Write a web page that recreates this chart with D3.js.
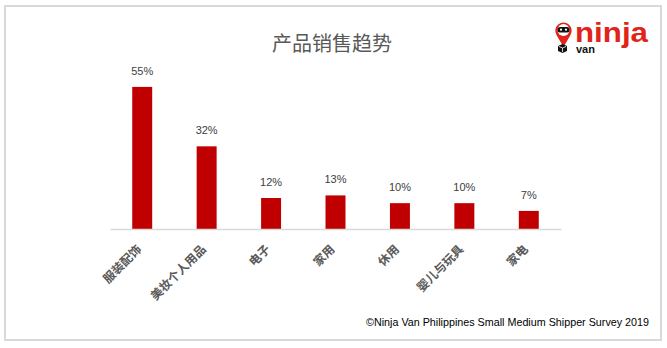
<!DOCTYPE html>
<html>
<head>
<meta charset="utf-8">
<script src="https://cdn.jsdelivr.net/npm/d3@7"></script>
<style>
  html, body { margin: 0; padding: 0; background: #fff; }
  svg { display: block; }
</style>
</head>
<body>
<svg id="chart" width="667" height="348"></svg>
<script>
// Product categories and their share of sales (%)
const categories = ["服装配饰", "美妆个人用品", "电子", "家用", "休用", "婴儿与玩具", "家电"];
const shares = [55, 32, 12, 13, 10, 10, 7];
const valueLabels = ["55%", "32%", "12%", "13%", "10%", "10%", "7%"];

const titleText = "产品销售趋势";
const sourceText = "©Ninja Van Philippines Small Medium Shipper Survey 2019";

const W = 667, H = 348;
const svg = d3.select("#chart");

// outer frame
svg.append("rect")
  .attr("x", 5).attr("y", 6)
  .attr("width", 656).attr("height", 334)
  .attr("fill", "#fff")
  .attr("stroke", "#d9d9d9")
  .attr("stroke-width", 2);

const plot = { left: 110, right: 561, top: 74, bottom: 229 };

const x = d3.scaleBand()
  .domain(categories)
  .range([plot.left, plot.right])
  .paddingInner(0.69)
  .paddingOuter(0.345);

const y = d3.scaleLinear()
  .domain([0, 60])
  .range([plot.bottom, plot.top]);

// title
svg.append("text")
  .attr("x", 332).attr("y", 51)
  .attr("text-anchor", "middle")
  .attr("font-family", "'Noto Sans CJK SC', sans-serif")
  .attr("font-size", 20)
  .attr("fill", "#595959")
  .text(titleText);

// bars
svg.append("g").selectAll("rect")
  .data(shares)
  .join("rect")
  .attr("x", (d, i) => x(categories[i]))
  .attr("y", d => y(d))
  .attr("width", x.bandwidth())
  .attr("height", d => y(0) - y(d))
  .attr("fill", "#c00000");

// value labels
svg.append("g").selectAll("text")
  .data(shares)
  .join("text")
  .attr("x", (d, i) => x(categories[i]) + x.bandwidth() / 2)
  .attr("y", d => y(d) - 12)
  .attr("text-anchor", "middle")
  .attr("font-family", "'Liberation Sans', Arial, sans-serif")
  .attr("font-size", 11)
  .attr("fill", "#404040")
  .text((d, i) => valueLabels[i]);

// x axis
const xAxis = svg.append("g")
  .attr("transform", `translate(0,${plot.bottom})`)
  .call(d3.axisBottom(x).tickSize(0).tickSizeOuter(0));
xAxis.select(".domain").attr("stroke", "#d9d9d9").attr("stroke-width", 1.5);
xAxis.selectAll(".tick text")
  .attr("font-family", "'Noto Sans CJK SC', sans-serif")
  .attr("font-weight", "bold")
  .attr("font-size", 12)
  .attr("fill", "#595959")
  .attr("text-anchor", "end")
  .attr("dy", null)
  .attr("y", 0)
  .attr("transform", "translate(0,21) rotate(-45)");

// source note
svg.append("text")
  .attr("x", 649).attr("y", 326)
  .attr("text-anchor", "end")
  .attr("font-family", "'Liberation Sans', Arial, sans-serif")
  .attr("font-size", 11)
  .attr("textLength", 283)
  .attr("lengthAdjust", "spacingAndGlyphs")
  .attr("fill", "#000")
  .text(sourceText);

// brand mark
const logo = svg.append("g");
logo.append("path")
  .attr("d", "M563.5,47 L556.5,35 A8.2,8.2 0 1 1 570.5,35 Z")
  .attr("fill", "#e2231a");
logo.append("circle").attr("cx", 563.5).attr("cy", 30).attr("r", 6).attr("fill", "#fff");
logo.append("rect").attr("x", 557.5).attr("y", 27).attr("width", 12).attr("height", 5.5).attr("rx", 2.5).attr("fill", "#111");
logo.append("circle").attr("cx", 561).attr("cy", 29.7).attr("r", 1.1).attr("fill", "#fff");
logo.append("circle").attr("cx", 566).attr("cy", 29.7).attr("r", 1.1).attr("fill", "#fff");
// little parcel
logo.append("path")
  .attr("d", "M558,46 L562.5,44 L567,46 L567,51 L562.5,53 L558,51 Z")
  .attr("fill", "#111");
logo.append("path")
  .attr("d", "M558.8,46.4 L562.5,48 L566.2,46.4 M562.5,48 L562.5,52")
  .attr("stroke", "#fff").attr("stroke-width", 0.8).attr("fill", "none");
logo.append("text")
  .attr("x", 575).attr("y", 42)
  .attr("font-family", "'Liberation Sans', Arial, sans-serif")
  .attr("font-weight", "bold")
  .attr("font-size", 27)
  .attr("textLength", 73)
  .attr("lengthAdjust", "spacingAndGlyphs")
  .attr("fill", "#e2231a")
  .text("ninja");
logo.append("text")
  .attr("x", 576).attr("y", 53)
  .attr("font-family", "'Liberation Sans', Arial, sans-serif")
  .attr("font-weight", "bold")
  .attr("font-size", 11)
  .attr("fill", "#111")
  .text("van");
</script>
</body>
</html>
